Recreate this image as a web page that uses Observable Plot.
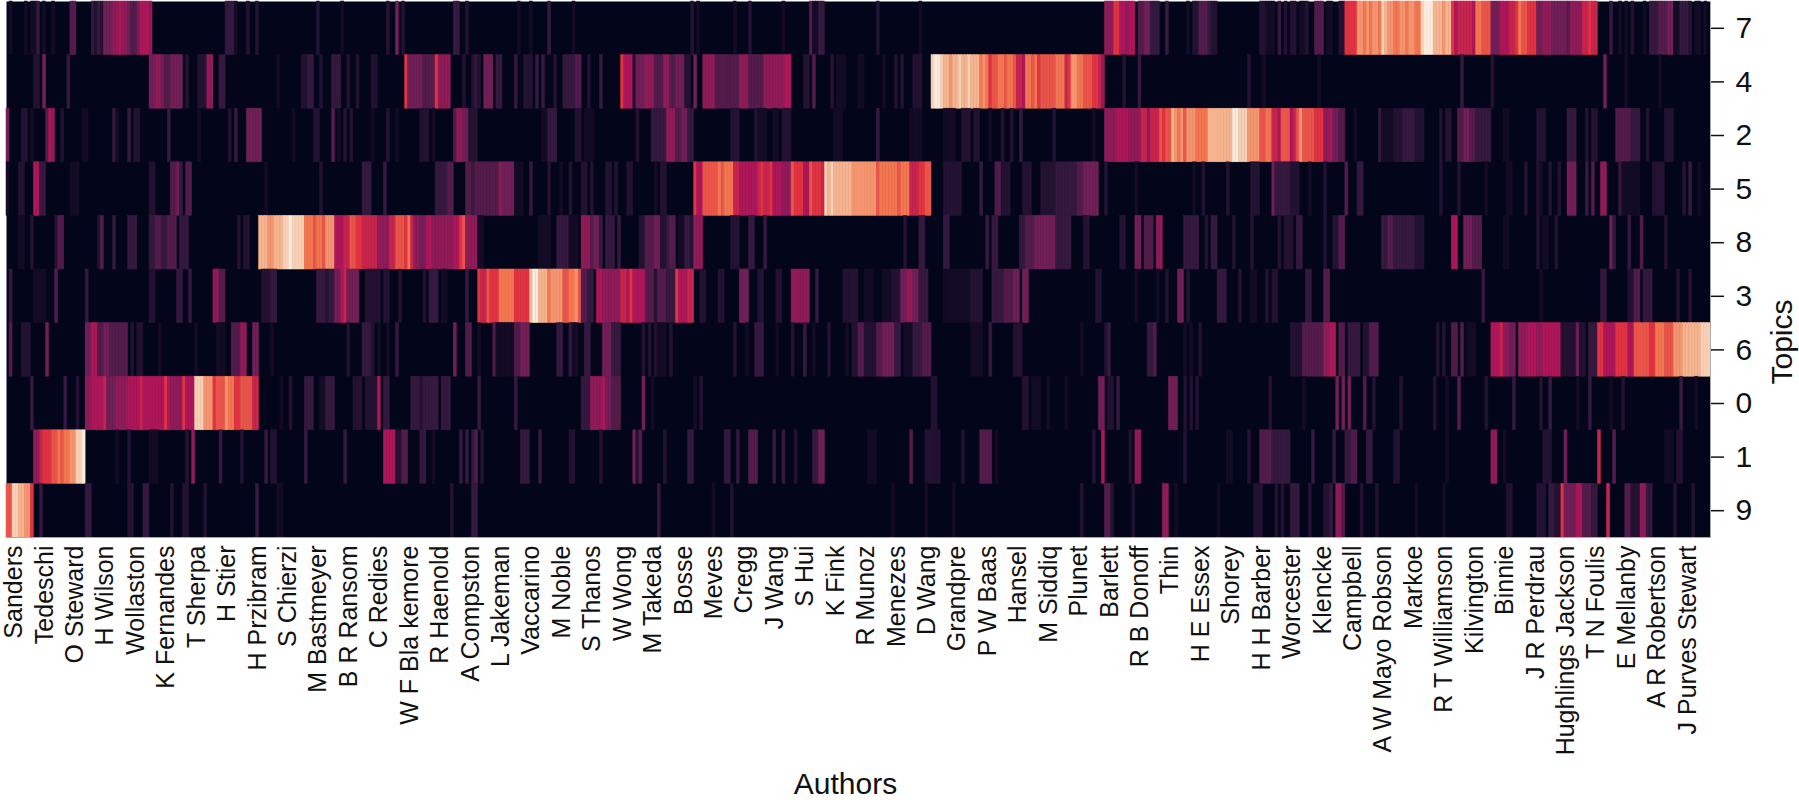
<!doctype html>
<html><head><meta charset="utf-8">
<script src="https://cdn.jsdelivr.net/npm/d3@7"></script>
<script src="https://cdn.jsdelivr.net/npm/@observablehq/plot@0.6"></script>
<style>html,body{margin:0;padding:0;background:#fff;overflow:hidden}svg{display:block}</style>
</head><body><div id="chart"></div>
<script>
const authors = ["Sanders","Tedeschi","O Steward","H Wilson","Wollaston","K Fernandes","T Sherpa","H Stier","H Przibram","S Chierzi","M Bastmeyer","B R Ransom","C Redies","W F Bla kemore","R Haenold","A Compston","L Jakeman","Vaccarino","M Noble","S Thanos","W Wong","M Takeda","Bosse","Meves","Cregg","J Wang","S Hui","K Fink","R Munoz","Menezes","D Wang","Grandpre","P W Baas","Hansel","M Siddiq","Plunet","Barlett","R B Donoff","Thin","H E Essex","Shorey","H H Barber","Worcester","Klencke","Campbell","A W Mayo Robson","Markoe","R T Williamson","Kilvington","Binnie","J R Perdrau","Hughlings Jackson","T N Foulis","E Mellanby","A R Robertson","J Purves Stewart"];
const topicOrder = [7,4,2,5,8,3,6,0,1,9];
const columnCount = 560;
const rocket = ["#03051a","#35193e","#701f57","#ad1759","#e13342","#f37651","#f6b48f","#faebdd"];
const levels = [0,3,5,7,9,11,13,15];
// each topic: runs of [first author column, last author column, weight level]; unlisted columns are 0
const topic7 = [[1,1,1],[6,6,1],[8,9,1],[10,10,3],[12,12,1],[15,15,1],[21,22,4],[28,28,3],[29,29,2],[30,30,3],[31,31,2],[32,34,5],[35,36,6],[37,37,7],[38,39,6],[40,40,5],[41,42,4],[43,43,5],[44,46,7],[47,47,6],[72,74,3],[75,75,1],[79,79,2],[82,82,2],[102,102,2],[110,110,1],[125,125,2],[128,128,5],[130,130,2],[147,148,3],[151,151,2],[168,168,1],[172,172,1],[178,178,3],[186,186,1],[225,225,2],[227,227,1],[239,239,1],[244,244,2],[255,255,1],[264,264,4],[265,266,1],[267,268,3],[286,286,2],[300,300,1],[361,363,6],[364,365,9],[366,367,7],[368,368,6],[369,370,7],[372,373,4],[374,375,5],[376,378,3],[381,381,3],[388,388,1],[390,391,2],[392,394,4],[395,395,3],[396,397,2],[412,413,2],[414,416,1],[418,418,3],[420,420,2],[422,423,2],[425,426,1],[427,427,2],[430,432,4],[434,435,1],[438,439,2],[440,443,9],[444,445,12],[446,446,11],[447,447,12],[448,448,11],[449,450,12],[451,451,11],[452,452,14],[453,453,13],[454,455,12],[456,457,11],[458,459,12],[460,460,11],[461,462,12],[463,464,11],[465,465,14],[466,468,15],[469,471,13],[472,472,12],[473,474,13],[475,475,9],[476,476,7],[477,481,8],[482,482,7],[483,484,11],[485,487,10],[488,490,5],[491,493,7],[494,495,8],[496,496,9],[497,497,11],[498,499,10],[500,502,9],[503,504,5],[505,507,6],[508,512,5],[513,513,4],[514,517,6],[518,519,8],[520,520,9],[521,522,8],[527,527,3],[530,530,1],[532,532,1],[534,534,2],[538,538,1],[540,542,3],[543,545,4],[546,547,5],[548,549,1],[550,552,3],[553,553,2],[555,556,1],[558,558,1]];
const topic4 = [[9,10,2],[12,12,5],[20,20,3],[47,48,5],[49,50,6],[51,51,5],[52,53,4],[54,57,5],[59,59,2],[63,65,2],[66,67,6],[70,71,3],[89,89,1],[97,98,2],[99,100,3],[103,103,2],[107,109,3],[112,112,2],[115,115,2],[120,121,2],[131,131,9],[132,132,5],[133,136,5],[137,140,4],[141,141,9],[142,145,6],[150,150,2],[153,153,2],[154,154,3],[155,155,2],[157,159,5],[161,162,3],[167,167,3],[170,172,2],[174,174,3],[176,176,3],[180,180,2],[183,186,3],[187,188,4],[191,191,2],[195,195,3],[202,202,9],[203,205,7],[206,206,2],[207,209,5],[210,212,6],[213,215,4],[216,217,6],[218,219,4],[220,222,5],[223,224,2],[226,226,5],[229,232,6],[233,237,4],[238,240,4],[241,243,6],[244,248,4],[249,255,6],[256,257,7],[262,263,2],[265,265,4],[271,271,2],[273,275,1],[280,281,1],[288,288,1],[292,292,2],[294,294,2],[298,300,2],[304,304,14],[305,306,15],[307,307,14],[308,309,13],[310,310,12],[311,312,13],[313,313,14],[314,315,13],[316,316,14],[317,319,13],[320,320,11],[321,321,12],[322,322,11],[323,323,9],[324,325,10],[326,327,11],[328,328,10],[329,330,11],[331,331,10],[332,333,8],[334,334,7],[335,336,11],[337,337,10],[338,338,11],[339,339,9],[340,344,10],[345,347,11],[348,348,8],[349,349,9],[350,351,12],[352,353,11],[354,356,10],[357,358,9],[359,359,8],[360,360,6],[367,367,2],[372,372,3],[408,408,2],[413,413,1],[431,431,1],[478,478,3],[488,488,2],[525,525,5],[532,532,1],[543,543,1]];
const topic2 = [[0,0,5],[5,6,2],[8,8,1],[13,13,4],[14,14,7],[15,15,6],[18,18,2],[25,26,1],[35,35,3],[36,36,1],[40,40,3],[42,43,2],[53,53,3],[63,63,1],[73,73,2],[75,75,3],[79,83,5],[94,94,1],[101,102,2],[107,107,4],[109,109,1],[111,111,2],[113,113,2],[120,120,1],[125,125,2],[128,128,1],[136,138,2],[140,140,1],[147,147,4],[148,149,6],[150,150,5],[151,151,5],[152,154,2],[176,177,1],[178,180,3],[187,188,2],[190,192,1],[207,207,2],[212,216,3],[217,219,6],[220,221,4],[222,223,5],[224,225,3],[238,240,2],[246,246,2],[247,249,1],[252,253,1],[255,257,2],[272,274,1],[286,286,3],[297,300,1],[308,311,1],[314,316,2],[318,319,2],[323,323,1],[327,327,2],[330,330,2],[333,333,3],[344,344,2],[357,357,1],[361,364,6],[365,368,7],[369,372,6],[373,374,8],[375,375,6],[376,378,8],[379,379,10],[380,380,9],[381,382,10],[383,383,13],[384,384,12],[385,385,11],[386,386,12],[387,387,10],[388,390,12],[391,392,11],[393,394,11],[395,396,13],[397,402,13],[403,404,15],[405,407,14],[408,411,12],[412,413,10],[414,415,11],[416,417,8],[418,418,7],[419,421,10],[422,422,7],[423,423,8],[424,424,10],[425,425,12],[426,429,10],[430,432,9],[433,434,6],[435,435,7],[436,437,5],[438,439,4],[443,443,1],[451,451,3],[452,455,1],[456,458,2],[459,462,3],[463,465,2],[471,471,2],[473,474,2],[477,478,4],[479,480,5],[481,482,4],[483,487,3],[492,493,1],[503,505,2],[513,515,3],[519,519,2],[521,522,2],[529,533,4],[534,536,3],[539,539,2],[545,547,2]];
const topic5 = [[0,0,1],[4,5,2],[9,10,7],[11,12,3],[21,23,1],[47,48,2],[54,55,4],[56,56,5],[57,57,3],[59,60,4],[85,85,1],[103,103,2],[117,119,3],[124,124,3],[141,142,3],[143,144,3],[145,146,4],[151,152,4],[153,153,3],[154,161,4],[162,162,6],[163,166,5],[167,169,1],[172,172,3],[178,178,2],[182,182,1],[185,185,2],[189,190,2],[192,192,2],[197,198,2],[200,200,2],[204,205,2],[213,213,1],[215,216,2],[226,226,9],[227,228,7],[229,233,10],[234,234,11],[235,235,10],[236,238,11],[239,240,8],[241,246,7],[247,247,8],[248,248,9],[249,250,8],[251,251,9],[252,254,7],[255,257,6],[258,258,10],[259,261,9],[262,263,7],[264,264,10],[265,267,9],[268,268,8],[269,269,14],[270,270,13],[271,271,14],[272,277,13],[278,285,12],[286,286,10],[287,292,11],[293,293,10],[294,296,11],[297,299,8],[300,301,9],[302,303,10],[308,313,2],[320,320,3],[325,326,4],[327,329,2],[334,336,2],[340,344,2],[345,351,3],[352,353,4],[354,358,5],[361,361,2],[371,371,1],[390,390,1],[393,393,2],[401,401,2],[409,411,2],[416,416,5],[417,421,3],[422,424,2],[428,428,1],[433,433,2],[440,440,4],[444,445,3],[471,471,2],[477,477,2],[486,486,1],[493,494,1],[499,499,2],[503,503,2],[504,504,1],[507,507,2],[510,510,2],[513,515,5],[519,519,3],[521,521,4],[524,525,6],[530,530,3],[531,536,1],[541,544,2],[551,551,2],[553,553,3],[556,556,1]];
const topic8 = [[4,5,1],[8,8,2],[16,16,2],[17,18,4],[30,30,2],[31,31,4],[35,35,3],[40,42,3],[47,48,3],[49,50,4],[51,52,3],[53,55,4],[57,59,3],[76,76,2],[78,79,2],[83,85,13],[86,87,12],[88,90,13],[91,92,14],[93,93,15],[94,97,14],[98,100,11],[101,101,10],[102,103,11],[104,104,10],[105,107,12],[108,110,7],[111,112,8],[113,114,10],[115,116,9],[117,121,8],[122,125,6],[126,127,8],[128,128,10],[129,130,10],[131,131,9],[132,132,11],[133,133,8],[134,135,6],[136,137,5],[138,139,7],[140,142,6],[143,146,6],[147,148,7],[149,149,9],[150,150,10],[151,154,6],[155,156,1],[175,178,1],[181,184,3],[185,187,1],[189,191,6],[192,192,4],[193,194,5],[195,195,3],[197,199,3],[201,201,3],[208,209,2],[210,212,4],[213,214,5],[215,216,2],[217,217,3],[218,219,4],[221,222,1],[223,224,3],[225,225,2],[226,228,6],[238,240,2],[244,245,3],[249,249,3],[295,295,2],[300,301,3],[308,309,3],[322,322,3],[324,325,3],[333,334,3],[335,337,4],[338,344,5],[345,349,3],[354,355,2],[366,367,2],[371,372,5],[374,376,4],[378,379,6],[387,391,3],[394,394,2],[396,397,3],[403,403,2],[409,409,2],[418,418,2],[420,421,2],[422,422,2],[424,425,3],[433,433,2],[436,437,2],[438,439,4],[452,453,3],[454,455,4],[456,462,3],[463,465,2],[475,476,7],[479,481,5],[482,484,4],[492,493,1],[503,503,2],[505,506,1],[509,509,2],[527,527,5],[528,528,3],[533,533,3],[537,537,4],[545,545,2]];
const topic3 = [[1,1,3],[9,9,1],[10,12,1],[16,16,4],[26,26,3],[47,48,2],[56,57,3],[60,60,3],[68,69,6],[70,71,4],[84,86,2],[87,88,3],[102,104,3],[105,105,2],[106,107,3],[108,109,5],[110,110,7],[111,111,8],[112,115,5],[118,122,2],[124,125,2],[129,129,2],[137,137,2],[139,141,3],[143,144,1],[151,151,3],[155,155,9],[156,157,8],[158,158,10],[159,161,9],[162,166,11],[167,171,9],[172,172,13],[173,174,15],[175,177,13],[178,178,11],[179,182,12],[183,184,10],[185,186,11],[187,187,12],[188,188,10],[189,190,4],[191,192,3],[194,195,7],[196,201,6],[202,203,8],[204,204,7],[205,205,9],[206,209,7],[210,212,4],[213,213,2],[214,216,4],[217,219,3],[220,220,9],[221,223,7],[224,225,8],[228,229,2],[234,235,2],[241,243,5],[247,248,2],[253,254,2],[258,263,6],[266,266,3],[275,277,2],[278,279,2],[282,284,1],[288,290,1],[291,293,2],[294,295,5],[296,297,6],[298,299,5],[300,302,3],[308,316,1],[317,320,2],[324,327,3],[328,330,4],[331,332,5],[334,335,5],[358,359,2],[371,371,1],[378,378,1],[381,381,2],[385,386,5],[388,388,2],[398,400,3],[405,405,2],[409,410,1],[414,414,2],[416,417,2],[427,428,3],[433,434,4],[485,485,3],[504,504,1],[524,525,3],[533,534,2],[535,536,4],[538,540,3],[549,549,2],[553,553,2]];
const topic6 = [[1,1,4],[5,7,2],[13,13,5],[26,27,5],[28,29,7],[30,31,4],[32,33,5],[34,39,4],[41,41,2],[43,44,2],[50,50,1],[62,62,1],[69,71,1],[74,76,4],[77,78,6],[81,82,5],[87,87,1],[112,112,2],[117,119,3],[120,120,2],[122,122,1],[125,125,1],[128,128,3],[147,147,5],[151,152,4],[155,155,1],[160,160,4],[161,166,1],[167,168,4],[169,171,5],[181,182,3],[185,185,3],[186,187,1],[190,191,3],[196,198,5],[199,201,3],[209,209,2],[211,211,2],[213,213,2],[214,216,1],[218,218,2],[239,239,2],[243,243,1],[246,248,3],[253,253,1],[258,258,2],[262,262,3],[265,265,1],[270,270,2],[276,276,1],[278,279,2],[280,281,4],[282,285,2],[286,287,4],[288,291,5],[292,293,3],[295,297,1],[298,300,3],[301,303,4],[317,320,1],[323,323,3],[331,333,2],[353,353,1],[361,361,2],[362,362,3],[375,376,3],[377,377,4],[387,387,1],[389,389,1],[392,392,2],[422,425,2],[426,426,4],[427,432,4],[433,434,6],[435,436,7],[438,439,4],[441,444,3],[446,447,2],[448,450,4],[470,470,2],[472,472,2],[475,476,4],[478,478,4],[480,482,1],[488,490,7],[491,491,8],[492,493,6],[494,495,5],[497,499,6],[500,502,7],[503,504,6],[505,510,7],[511,512,2],[513,515,2],[516,516,5],[517,518,2],[520,522,3],[523,524,9],[525,528,7],[529,532,9],[533,534,7],[535,539,10],[540,541,9],[542,544,11],[545,547,10],[548,550,12],[551,556,13],[557,559,14]];
const topic0 = [[8,8,3],[19,19,3],[23,23,2],[26,27,6],[28,31,7],[32,32,8],[33,35,5],[36,39,6],[40,43,7],[44,44,8],[45,51,7],[52,52,9],[53,53,7],[54,57,6],[58,58,9],[59,61,7],[62,64,14],[65,67,12],[68,68,9],[69,71,10],[72,72,12],[73,74,11],[75,76,9],[77,80,10],[81,82,8],[90,90,1],[93,93,2],[98,100,3],[103,104,1],[105,107,3],[114,116,2],[118,121,2],[122,122,7],[124,125,3],[133,135,3],[136,136,2],[137,141,3],[143,145,3],[155,155,3],[167,167,3],[189,191,3],[192,195,6],[196,196,7],[197,198,5],[199,201,4],[209,209,5],[212,212,1],[226,226,1],[228,228,2],[304,305,2],[334,335,2],[337,339,1],[342,342,1],[348,348,1],[359,360,5],[362,363,2],[365,365,3],[382,384,5],[387,387,2],[389,389,2],[391,391,2],[415,415,2],[426,426,1],[437,437,5],[439,439,5],[441,441,5],[446,446,4],[449,449,2],[458,458,2],[469,469,2],[473,473,1],[477,477,4],[486,486,2],[495,495,3],[504,504,2],[507,507,3],[516,516,1],[520,520,3],[527,527,1],[531,531,2],[550,550,3],[555,555,1]];
const topic1 = [[9,10,6],[11,11,8],[12,14,9],[15,16,10],[17,17,11],[18,18,10],[19,20,11],[21,22,12],[23,24,14],[25,25,15],[36,36,1],[40,40,2],[47,49,1],[59,59,2],[61,61,6],[70,70,3],[77,77,2],[85,85,3],[87,88,2],[98,98,3],[111,111,3],[124,127,7],[128,129,2],[130,131,4],[136,137,3],[140,140,1],[149,149,3],[151,151,3],[153,153,3],[154,154,4],[156,156,2],[169,171,3],[175,175,3],[185,186,2],[195,195,2],[206,206,5],[207,207,2],[208,208,4],[216,216,2],[224,225,3],[236,237,3],[240,240,3],[244,246,4],[252,252,3],[255,255,3],[259,259,2],[265,266,3],[267,268,5],[283,285,1],[297,297,4],[302,304,2],[305,306,2],[314,314,2],[320,323,4],[325,325,1],[357,357,2],[360,360,7],[369,369,2],[371,372,6],[387,387,2],[401,402,1],[408,408,2],[412,415,4],[416,421,3],[429,429,3],[436,436,3],[440,441,3],[442,443,4],[447,448,3],[456,457,2],[473,473,1],[488,489,6],[492,492,1],[505,507,2],[512,512,5],[523,523,8],[528,528,4],[545,547,1],[549,550,2]];
const topic9 = [[0,1,10],[2,3,14],[4,5,13],[6,7,12],[8,8,9],[11,11,3],[26,27,3],[40,41,2],[45,46,3],[54,54,2],[58,59,2],[65,65,2],[82,82,3],[89,90,1],[146,146,2],[153,154,3],[214,214,3],[232,232,1],[238,238,2],[291,291,1],[302,302,1],[311,311,1],[353,353,2],[361,362,4],[363,363,2],[370,370,2],[380,381,6],[384,384,1],[398,398,1],[410,412,2],[417,417,2],[419,419,2],[422,424,3],[428,428,2],[433,434,2],[435,435,3],[437,438,6],[439,439,4],[445,445,2],[450,450,2],[463,463,1],[472,472,1],[493,494,2],[503,505,2],[507,508,3],[509,510,2],[511,511,9],[512,515,5],[516,517,7],[518,520,4],[521,522,3],[526,526,8],[532,533,4],[534,536,2],[537,538,6],[539,540,3],[548,548,2],[554,554,2]];

const runsByTopic = new Map([[7,topic7],[4,topic4],[2,topic2],[5,topic5],[8,topic8],[3,topic3],[6,topic6],[0,topic0],[1,topic1],[9,topic9]]);
const table = topicOrder.flatMap(topic => {
  const weights = new Array(columnCount).fill(0);
  for (const [first, last, level] of runsByTopic.get(topic)) for (let c = first; c <= last; c++) weights[c] = level;
  return weights.map((weight, column) => ({topic, column, weight}));
});
const tickColumns = authors.map((_, i) => i * 10 + 2);
const nameAt = new Map(tickColumns.map((c, i) => [c, authors[i]]));

const chart = Plot.plot({
  width: 1799, height: 800,
  marginLeft: 6, marginRight: 89, marginTop: 1, marginBottom: 263,
  style: {fontFamily: "'Liberation Sans', Arial, sans-serif", color: "#111", background: "#fff"},
  x: {type: "band", domain: d3.range(columnCount), padding: 0, round: false},
  y: {type: "band", domain: topicOrder, padding: 0, round: false},
  color: {type: "linear", domain: levels, range: rocket, interpolate: "rgb", clamp: true},
  marks: [
    Plot.frame({fill: "#03051a", stroke: "none"}),
    Plot.cell(table.filter(d => d.weight > 0), {x: "column", y: "topic", fill: "weight", stroke: "weight", strokeWidth: 0.5}),
    Plot.frame({anchor: "right", stroke: "#aaa"}),
    Plot.frame({anchor: "bottom", stroke: "#aaa"}),
    Plot.axisX({ticks: tickColumns, tickFormat: c => nameAt.get(c), tickRotate: -90, tickSize: 0, tickPadding: 8, fontSize: 25, label: null}),
    Plot.axisY({anchor: "right", tickSize: 13, tickPadding: 12, fontSize: 30, label: null, stroke: "#111", strokeWidth: 1.5}),
    Plot.text(["Topics"], {frameAnchor: "right", rotate: -90, dx: 72, dy: 30, fontSize: 30, fill: "#111"}),
    Plot.text(["Authors"], {frameAnchor: "bottom", dx: -13, dy: 256, fontSize: 30, fill: "#111"})
  ]
});
document.getElementById("chart").append(chart);
</script></body></html>
